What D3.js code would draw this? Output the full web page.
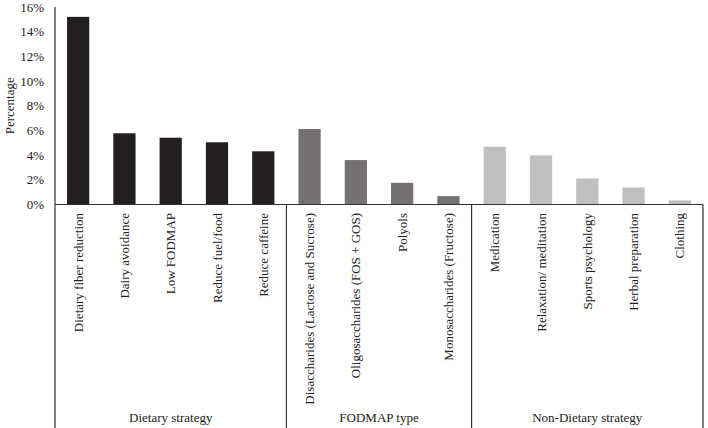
<!DOCTYPE html>
<html>
<head>
<meta charset="utf-8">
<script src="https://cdn.jsdelivr.net/npm/d3@7"></script>
<style>
  body { margin: 0; background: #fff; }
  text { font-family: "Liberation Serif", "Times New Roman", serif; fill: #222; }
</style>
</head>
<body>
<div id="chart"></div>
<script>
// categories and values
var categories = ['Dietary fiber reduction', 'Dairy avoidance', 'Low FODMAP', 'Reduce fuel/food', 'Reduce caffeine',
  'Disaccharides (Lactose and Sucrose)', 'Oligosaccharides (FOS + GOS)', 'Polyols', 'Monosaccharides (Fructose)',
  'Medication', 'Relaxation/ meditation', 'Sports psychology', 'Herbal preparation', 'Clothing'];
var values = [15.2, 5.77, 5.41, 5.04, 4.31, 6.12, 3.6, 1.76, 0.68, 4.68, 3.98, 2.11, 1.38, 0.33];
var groupNames = ['Dietary strategy', 'FODMAP type', 'Non-Dietary strategy'];
var groupSizes = [5, 4, 5];
var groupColors = ['#231f20', '#767171', '#bfbfbf'];
var yTicks = [0, 2, 4, 6, 8, 10, 12, 14, 16];

var width = 708, height = 428;
var plotLeft = 55, plotRight = 703, plotTop = 7, plotBase = 204.5, plotBottom = 428;

var svg = d3.select('#chart').append('svg')
  .attr('width', width)
  .attr('height', height);

var x = d3.scaleBand()
  .domain(categories)
  .range([plotLeft, plotRight])
  .paddingInner(0.52)
  .paddingOuter(0.26);

var y = d3.scaleLinear()
  .domain([0, 16])
  .range([plotBase, plotTop]);

// which group each bar belongs to
var groupOf = [];
groupSizes.forEach(function(n, g) {
  for (var i = 0; i < n; i++) groupOf.push(g);
});

var yAxis = d3.axisLeft(y)
  .tickValues(yTicks)
  .tickSize(0)
  .tickPadding(11)
  .tickFormat(d => d + '%');

svg.append('g')
  .attr('transform', 'translate(' + plotLeft + ',0)')
  .call(yAxis)
  .call(g => g.select('.domain').remove())
  .selectAll('text')
  .style('font-family', '"Liberation Serif", serif')
  .style('font-size', '13px')
  .attr('fill', '#222');

svg.append('text')
  .attr('transform', 'translate(14,' + ((plotTop + plotBase) / 2) + ') rotate(-90)')
  .attr('text-anchor', 'middle')
  .style('font-size', '13px')
  .text('Percentage');

svg.append('g')
  .selectAll('rect')
  .data(values)
  .enter()
  .append('rect')
  .attr('x', (d, i) => x(categories[i]))
  .attr('y', d => y(d))
  .attr('width', x.bandwidth())
  .attr('height', d => y(0) - y(d))
  .attr('fill', (d, i) => groupColors[groupOf[i]]);

// axis lines
var step = x.step();
var lineColor = '#333';
svg.append('line')
  .attr('x1', plotLeft).attr('x2', plotLeft)
  .attr('y1', plotTop).attr('y2', plotBottom)
  .attr('stroke', lineColor).attr('stroke-width', 1.2);
svg.append('line')
  .attr('x1', plotLeft).attr('x2', plotRight)
  .attr('y1', plotBase).attr('y2', plotBase)
  .attr('stroke', lineColor).attr('stroke-width', 1.2);

var start = 0;
groupSizes.forEach(function(n, g) {
  var x0 = x(categories[start]) - (step - x.bandwidth()) / 2;
  var x1 = x0 + n * step;
  svg.append('line')
    .attr('x1', x1).attr('x2', x1)
    .attr('y1', plotBase).attr('y2', plotBottom)
    .attr('stroke', lineColor).attr('stroke-width', 1.2);
  svg.append('text')
    .attr('x', (x0 + x1) / 2)
    .attr('y', 422)
    .attr('text-anchor', 'middle')
    .style('font-size', '13px')
    .text(groupNames[g]);
  start += n;
});

// category labels
svg.append('g')
  .selectAll('text')
  .data(categories)
  .enter()
  .append('text')
  .attr('transform', d => 'translate(' + (x(d) + x.bandwidth() / 2 + 4.5) + ',213) rotate(-90)')
  .attr('text-anchor', 'end')
  .style('font-size', '13px')
  .text(d => d);
</script>
</body>
</html>
